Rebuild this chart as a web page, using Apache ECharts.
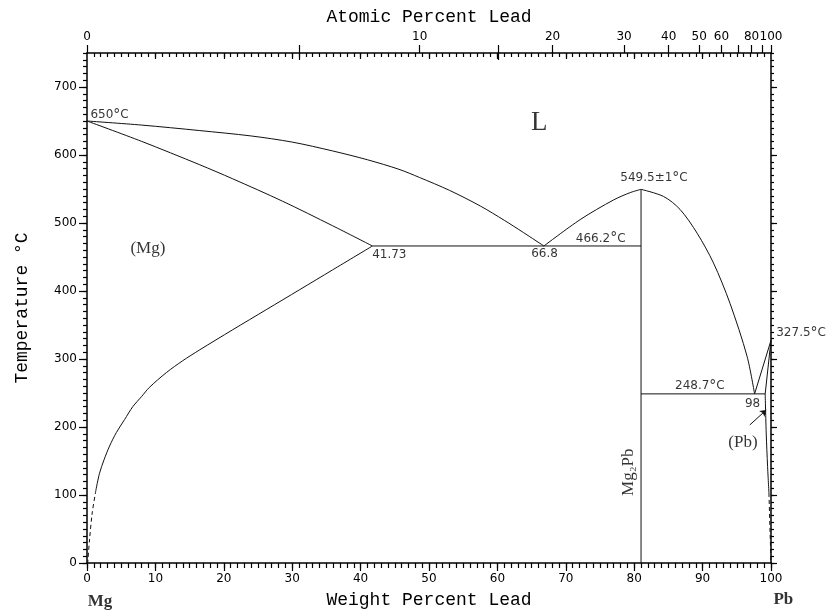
<!DOCTYPE html>
<html>
<head>
<meta charset="utf-8">
<script src="https://cdn.jsdelivr.net/npm/echarts@6/dist/echarts.min.js"></script>
<style>
html, body { margin: 0; padding: 0; background: #fff; }
#chart { width: 834px; height: 616px; }
</style>
</head>
<body>
<div id="chart"></div>
<script>
// axis ticks
const wtTicks = [0, 10, 20, 30, 40, 50, 60, 70, 80, 90, 100];
const tempTicks = [0, 100, 200, 300, 400, 500, 600, 700];
const atTicks = [0, 5, 10, 15, 20, 30, 40, 50, 60, 70, 80, 90, 100];
const atCross = [5, 15];
const atLabels = [0, 10, 20, 30, 40, 50, 60, 80, 100];

// phase boundaries [wt% Pb, °C]
const liqMg = [[0, 650], [8, 644], [16.4, 636], [24, 628], [30, 619], [35.9, 606], [41, 593], [45.6, 579], [48.6, 567], [53, 548], [57.5, 525], [61, 504], [63.8, 486], [66.8, 466.2]];
const solMg = [[0, 650], [8, 620], [16.4, 586], [21.3, 565], [28.6, 532], [35.9, 496], [41.73, 466.2]];
const solvMg = [[41.73, 466.2], [35.9, 431], [31.1, 402], [26.2, 372.5], [21.3, 343], [16.4, 313], [14, 297.5], [11.6, 280], [9.1, 258], [8, 245], [6.7, 230], [5.5, 211], [4.3, 192], [3.3, 172], [2.5, 152], [1.83, 132], [1.3, 107]];
const solvMgDash = [[1.3, 107], [0.76, 73.5], [0.37, 34], [0.1, 0]];
const eutMg = [[41.73, 466.2], [81, 466.2]];
const mg2pb = [[81, 0], [81, 549.5]];
const liqMid = [[66.8, 466.2], [72.1, 505], [77, 534], [79.5, 545], [81, 549.5]];
const liqRight = [[81, 549.5], [84.3, 539], [86.7, 520], [89.2, 485], [91.6, 441], [94, 382], [96.5, 304], [97.6, 248.7]];
const eutPb = [[81, 248.7], [99.15, 248.7]];
const liqPb = [[97.6, 248.7], [100, 327.5]];
const solPb = [[100, 327.5], [99.15, 248.7]];
const solvPb = [[99.15, 248.7], [99.3, 191], [99.5, 142], [99.7, 103]];
const solvPbDash = [[99.7, 103], [99.85, 50], [100, 0]];
const arrowPb = [[96.9, 203], [99.3, 225]];

// annotations
const noteText = ['650{d|°}C', 'L', '549.5±1{d|°}C', '(Mg)', '41.73', '66.8', '466.2{d|°}C', '248.7{d|°}C', '98', '327.5{d|°}C', '(Pb)', 'Mg₂Pb', 'Mg', 'Pb'];
const noteAt = [[3.3, 658.5], [66.1, 647.5], [82.9, 566], [8.9, 463], [44.2, 453.4], [66.9, 455], [75.1, 477], [89.6, 260], [97.3, 234.3], [104.4, 338], [95.9, 177.6], [79.2, 133.5], [1.9, -57], [101.8, -54]];
const noteKind = ['num', 'big', 'num', 'serif', 'num', 'num', 'num', 'num', 'num', 'num', 'serif', 'rot', 'elem', 'elem'];

function atToWt(a) {
    const pb = a * 207.2, mg = (100 - a) * 24.305;
    return 100 * pb / (pb + mg);
}
function steps(a, b, s) {
    const r = [];
    for (let v = a; v <= b + 1e-9; v += s) r.push(v);
    return r;
}

const atTickWt = atTicks.map(atToWt);
const atLabelWt = atLabels.map(atToWt);

const numFont = 'DejaVu Sans';
const monoFont = 'Liberation Mono';
const serifFont = 'Liberation Serif';
const ink = '#000';

function hiddenAxis(pos, extra) {
    return Object.assign({
        type: 'value', position: pos, min: 0, max: pos == 'left' || pos == 'right' ? 750 : 100,
        axisLine: { show: false, onZero: false }, axisLabel: { show: false }, splitLine: { show: false }
    }, extra);
}

function curve(data, dashed, smooth) {
    return {
        type: 'line', data: data, showSymbol: false, symbol: 'none', smooth: smooth ? 0.3 : false,
        silent: true, clip: false,
        lineStyle: { color: '#111', width: 1, type: dashed ? [4, 3] : 'solid' }
    };
}

const noteStyles = {
    num: { fontFamily: numFont, fontSize: 12 },
    big: { fontFamily: serifFont, fontSize: 27 },
    serif: { fontFamily: serifFont, fontSize: 17 },
    rot: { fontFamily: serifFont, fontSize: 17, rotate: 90 },
    elem: { fontFamily: serifFont, fontSize: 17, fontWeight: 'bold' }
};

const notes = noteText.map(function (t, i) {
    const st = noteStyles[noteKind[i]];
    return {
        value: noteAt[i],
        label: Object.assign({
            show: true, position: 'inside', formatter: t, color: ink,
            rich: { d: { fontFamily: numFont, fontSize: 14, color: ink } }
        }, st)
    };
});

const tickLine = { color: ink, width: 1.2 };

const option = {
    animation: false,
    backgroundColor: '#fff',
    grid: { left: 87, right: 63, top: 53, bottom: 53, containLabel: false },
    xAxis: [
        {
            type: 'value', position: 'bottom', min: 0, max: 100,
            name: 'Weight Percent Lead', nameLocation: 'middle', nameGap: 28,
            nameTextStyle: { fontFamily: monoFont, fontSize: 18, color: ink },
            axisLine: { onZero: false, lineStyle: { color: ink, width: 1.5 } },
            axisTick: { customValues: wtTicks, length: 8, lineStyle: tickLine },
            axisLabel: { customValues: wtTicks, margin: 10, fontFamily: numFont, fontSize: 12, color: ink },
            splitLine: { show: false }
        },
        hiddenAxis('bottom', { axisTick: { customValues: steps(0, 100, 1), length: 5, lineStyle: tickLine } }),
        {
            type: 'value', position: 'top', min: 0, max: 100,
            name: 'Atomic Percent Lead', nameLocation: 'middle', nameGap: 27,
            nameTextStyle: { fontFamily: monoFont, fontSize: 18, color: ink },
            axisLine: { onZero: false, lineStyle: { color: ink, width: 1.5 } },
            axisTick: { customValues: atTickWt, length: 8, lineStyle: tickLine },
            axisLabel: {
                customValues: atLabelWt, margin: 10, fontFamily: numFont, fontSize: 12, color: ink,
                formatter: function (v) {
                    const k = atLabelWt.findIndex(function (w) { return Math.abs(w - v) < 1e-6; });
                    return k < 0 ? '' : String(atLabels[k]);
                }
            },
            splitLine: { show: false }
        },
        hiddenAxis('top', { axisTick: { inside: true, customValues: steps(1, 99, 1), length: 4, lineStyle: tickLine } }),
        hiddenAxis('top', { axisTick: { inside: true, customValues: steps(10, 90, 10), length: 6, lineStyle: tickLine } }),
        hiddenAxis('top', { axisTick: { inside: true, customValues: atCross.map(atToWt), length: 7, lineStyle: tickLine } })
    ],
    yAxis: [
        {
            type: 'value', position: 'left', min: 0, max: 750,
            name: 'Temperature °C', nameLocation: 'middle', nameGap: 56,
            nameTextStyle: { fontFamily: monoFont, fontSize: 18, color: ink },
            axisLine: { onZero: false, lineStyle: { color: ink, width: 1.5 } },
            axisTick: { customValues: tempTicks, length: 8, lineStyle: tickLine },
            axisLabel: { customValues: tempTicks, margin: 10, fontFamily: numFont, fontSize: 12, color: ink },
            splitLine: { show: false }
        },
        hiddenAxis('left', { axisTick: { customValues: steps(0, 750, 10), length: 4, lineStyle: tickLine } }),
        {
            type: 'value', position: 'right', min: 0, max: 750,
            axisLine: { onZero: false, lineStyle: { color: ink, width: 1.5 } },
            axisTick: { customValues: tempTicks, length: 6, lineStyle: tickLine },
            axisLabel: { show: false },
            splitLine: { show: false }
        },
        hiddenAxis('right', { axisTick: { customValues: steps(0, 750, 10), length: 3, lineStyle: tickLine } })
    ],
    series: [
        curve(liqMg, false, true),
        curve(solMg, false, true),
        curve(solvMg, false, true),
        curve(solvMgDash, true, true),
        curve(eutMg, false, false),
        curve(mg2pb, false, false),
        curve(liqMid, false, true),
        curve(liqRight, false, true),
        curve(eutPb, false, false),
        curve(liqPb, false, false),
        curve(solPb, false, false),
        curve(solvPb, false, true),
        curve(solvPbDash, true, false),
        {
            type: 'lines', coordinateSystem: 'cartesian2d', silent: true,
            symbol: ['none', 'arrow'], symbolSize: 6,
            lineStyle: { color: '#111', width: 1, opacity: 1 },
            data: [{ coords: arrowPb }]
        },
        {
            type: 'scatter', symbolSize: 0, silent: true, clip: false,
            data: notes
        }
    ]
};

const chart = echarts.init(document.getElementById('chart'), null, { renderer: 'canvas' });
chart.setOption(option);
</script>
</body>
</html>
